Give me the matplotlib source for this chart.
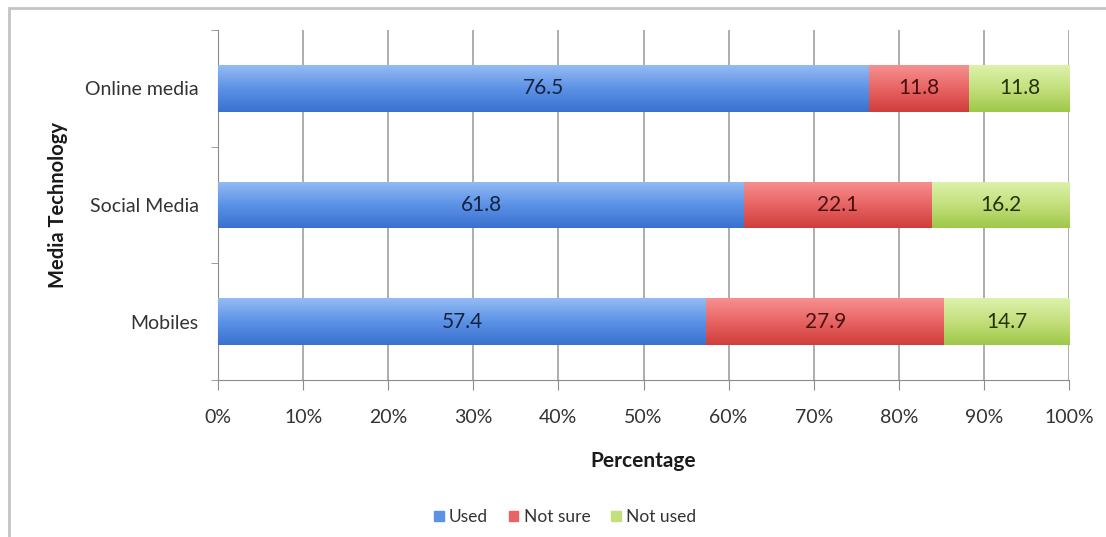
import numpy as np
import matplotlib
matplotlib.use("Agg")
from matplotlib import pyplot as plt
from matplotlib.colors import LinearSegmentedColormap
from matplotlib.patches import Rectangle
from matplotlib.ticker import FixedLocator, FuncFormatter

plt.rcParams['font.family'] = ['Lato', 'DejaVu Sans']

# survey results, bottom row first
categories = ["Mobiles", "Social Media", "Online media"]
used = [57.4, 61.8, 76.5]
not_sure = [27.9, 22.1, 11.8]
not_used = [14.7, 16.2, 11.8]

series_names = ["Used", "Not sure", "Not used"]
# (top, middle, bottom colour, label colour) per series
styles = [("#94bbf4", "#5c92e6", "#3a71cf", "#14233f"),
          ("#f69090", "#e86464", "#cf3e3c", "#4a1010"),
          ("#ddf1ab", "#c3e07c", "#9fc74a", "#24340a")]

fig = plt.figure(figsize=(11.06, 5.37), dpi=100)
ax = fig.add_axes([218/1106, 1-380/537, (1069-218)/1106, (380-30)/537])

# light frame round the whole chart
fig.patches.append(Rectangle((9/1106, -0.1), 1.2, 1.1 - 8/537, transform=fig.transFigure,
                             fill=False, edgecolor="#c4c4c4", linewidth=2, zorder=0))

ypos = np.arange(len(categories))
h = 0.4
left = np.zeros(len(categories))
handles = []
for vals, name, (ctop, cmid, cbot, tcol) in zip([used, not_sure, not_used], series_names, styles):
    vals = np.array(vals)
    bars = ax.barh(ypos, vals, height=h, left=left, color=cmid, edgecolor="none", zorder=2, label=name)
    cmap = LinearSegmentedColormap.from_list(name, [cbot, cmid, ctop])
    grad = np.linspace(0, 1, 64).reshape(-1, 1)
    for b in bars:
        x0, y0 = b.get_x(), b.get_y()
        im = ax.imshow(grad, cmap=cmap, aspect="auto", origin="lower",
                       extent=[x0, x0 + b.get_width(), y0, y0 + b.get_height()], zorder=3)
        im.set_clip_path(b)
    for y, l, v in zip(ypos, left, vals):
        ax.text(l + v / 2, y, f"{v:.1f}", ha="center", va="center", fontsize=15,
                color=tcol, zorder=4)
    handles.append(Rectangle((0, 0), 1, 1, color=cmid))
    left = left + vals

ax.set_xlim(0, 100)
ax.set_ylim(-0.5, 2.5)
ax.set_xticks(np.arange(0, 101, 10))
ax.xaxis.set_major_formatter(FuncFormatter(lambda v, p: f"{v:.0f}%"))
ax.set_yticks(ypos)
ax.set_yticklabels(categories)
ax.yaxis.set_minor_locator(FixedLocator([-0.5, 0.5, 1.5, 2.5]))
ax.tick_params(axis="y", which="major", length=0, pad=14, labelsize=14, labelcolor="#333333")
ax.tick_params(axis="y", which="minor", length=5, color="#8c8c8c", direction="out")
ax.tick_params(axis="x", length=7, color="#8c8c8c", pad=14, labelsize=14, labelcolor="#333333")

ax.grid(axis="x", color="#a0a0a0", linewidth=1.2, zorder=1)
ax.set_axisbelow(True)
for s in ["top", "right"]:
    ax.spines[s].set_visible(False)
for s in ["left", "bottom"]:
    ax.spines[s].set_color("#8c8c8c")

ax.set_xlabel("Percentage", fontsize=15, fontweight="bold", color="#1a1a1a", labelpad=18)
ax.set_ylabel("Media Technology", fontsize=14.5, fontweight="bold", color="#1a1a1a", labelpad=12)

fig.legend(handles, series_names, loc="center", bbox_to_anchor=(565/1106, 1-517/537), ncol=3,
           frameon=False, fontsize=12.5, handlelength=0.55, handleheight=0.55, handletextpad=0.3,
           columnspacing=1.2, labelcolor="#333333")

fig.savefig("out.png", dpi=100)
